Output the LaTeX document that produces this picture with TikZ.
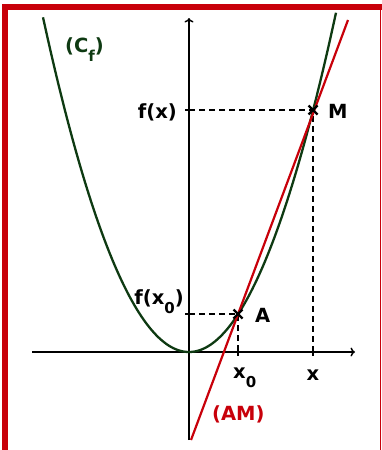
\documentclass[tikz,border=0pt]{standalone}
\usepackage{fontspec}
\setmainfont{DejaVu Sans}
\usetikzlibrary{arrows.meta}
\definecolor{dgreen}{HTML}{0E3A12}
\definecolor{fred}{HTML}{C8000A}
\tikzset{
  axis/.style={line width=1.4pt,-{To[length=4.5pt,width=9pt]}},
  curve/.style={dgreen,line width=2.3pt},
  secant/.style={fred,line width=2.2pt},
  guide/.style={line width=2pt,dash pattern=on 6pt off 4pt},
  tick/.style={line width=1.4pt},
  crossmark/.style={line width=2.4pt},
  lbl/.style={font=\bfseries\fontsize{19.5}{21}\selectfont,inner sep=0pt}
}
\newcommand{\subz}[1]{\raisebox{-9pt}{\fontsize{15}{16}\selectfont #1}}
\begin{document}
\begin{tikzpicture}[x=1pt,y=-1pt]
\useasboundingbox (0,0) rectangle (382,450);
% frame
\fill[fred] (2,4) rectangle (382,10);
\fill[fred] (2,4) rectangle (8,450);
\draw[fred,line width=1pt] (380.5,4) -- (380.5,450);
% coordinates
\coordinate (O) at (189,352);
\coordinate (xl) at (32,352);
\coordinate (xr) at (355,352);
\coordinate (yb) at (189,440);
\coordinate (yt) at (189,18);
\coordinate (A) at (238,314);
\coordinate (M) at (313,110);
\coordinate (Ax) at (238,352);
\coordinate (Mx) at (313,352);
\coordinate (Ay) at (189,314);
\coordinate (My) at (189,110);
\coordinate (Lb) at (191,440);
\coordinate (Lt) at (348,20);
% axes
\draw[axis] (xl) -- (xr);
\draw[axis] (yb) -- (yt);
% ticks
\draw[tick] (Ax) ++(0,-4) -- ++(0,8);
\draw[tick] (Mx) ++(0,-4) -- ++(0,8);
\draw[tick] (Ay) ++(-4,0) -- ++(8,0);
\draw[tick] (My) ++(-4,0) -- ++(8,0);
% guides
\draw[guide] (My) -- (M) -- (Mx);
\draw[guide] (Ay) -- (A) -- (Ax);
% curve
\draw[curve] plot[domain=43:336,samples=120] (\x,{352-0.0157*(\x-189)*(\x-189)});
% secant
\draw[secant] (Lb) -- (Lt);
% crosses
\draw[crossmark] (A) +(-4.5,-4.5) -- +(4.5,4.5) (A) +(-4.5,4.5) -- +(4.5,-4.5);
\draw[crossmark] (M) +(-4.5,-4.5) -- +(4.5,4.5) (M) +(-4.5,4.5) -- +(4.5,-4.5);
% labels
\node[lbl,dgreen,anchor=base west] (cf) at (65,52) {(C\subz{f})};
\node[lbl,anchor=base east] (fx) at (177,118) {f(x)};
\node[lbl,anchor=base west] (mlab) at (328,118) {M};
\node[lbl,anchor=base east] (fx0) at (184,304) {f(x\subz{0})};
\node[lbl,anchor=base west] (alab) at (255,322) {A};
\node[lbl,anchor=base west] (x0lab) at (233,378) {x\subz{0}};
\node[lbl,anchor=base] (xlab) at (313,380) {x};
\node[lbl,fred,anchor=base west] (amlab) at (212,420) {(AM)};
\end{tikzpicture}
\end{document}
